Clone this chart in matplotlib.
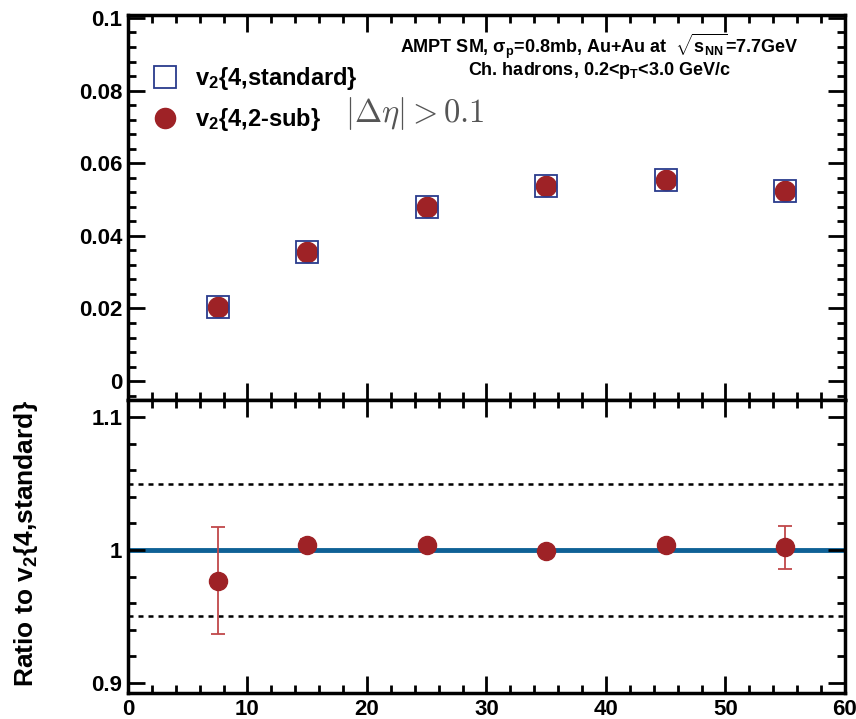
import matplotlib
matplotlib.use('Agg')
import matplotlib.pyplot as plt
from matplotlib.ticker import MultipleLocator

plt.rcParams['font.family'] = ['Liberation Sans', 'DejaVu Sans']
plt.rcParams['font.weight'] = 'bold'
plt.rcParams['mathtext.fontset'] = 'custom'
plt.rcParams['mathtext.rm'] = 'Liberation Sans:bold'
plt.rcParams['mathtext.it'] = 'Liberation Sans:bold'
plt.rcParams['mathtext.bf'] = 'Liberation Sans:bold'
plt.rcParams['mathtext.default'] = 'rm'

# centrality bins
cent = [7.5, 15, 25, 35, 45, 55]
v2_standard = [0.0204, 0.0355, 0.0479, 0.0537, 0.0554, 0.0523]
v2_2sub = [0.0204, 0.0356, 0.0480, 0.0537, 0.0555, 0.0524]
ratio = [0.977, 1.004, 1.004, 0.999, 1.004, 1.002]
ratio_err = [0.040, 0.004, 0.003, 0.003, 0.003, 0.016]

red = '#9e2226'
red_err = '#c0484a'
blue_sq = '#2a3b8c'

fig = plt.figure(figsize=(8.56, 7.19), dpi=100)
ax1 = fig.add_axes([0.1495, 0.4437, 0.8376, 0.5354])
ax2 = fig.add_axes([0.1495, 0.0362, 0.8376, 0.4075])

ax1.plot(cent, v2_standard, 's', ms=16.5, mfc='none', mec=blue_sq, mew=1.3,
         label=r'v$_2${4,standard}', zorder=3)
ax1.plot(cent, v2_2sub, 'o', ms=14.5, color=red, label=r'v$_2${4,2-sub}', zorder=2)

ax1.set_xlim(0, 60)
ax1.set_ylim(-0.0052, 0.1008)
ax1.set_yticks([0, 0.02, 0.04, 0.06, 0.08, 0.1])
ax1.set_yticklabels(['0', '0.02', '0.04', '0.06', '0.08', '0.1'])
ax1.yaxis.set_minor_locator(MultipleLocator(0.004))
ax1.tick_params(labelbottom=False)

leg = ax1.legend(loc='upper left', bbox_to_anchor=(0.035, 0.87), frameon=False,
                 fontsize=17, handletextpad=0.77, labelspacing=0.6, borderpad=0,
                 borderaxespad=0, handlelength=1.0)
ax1.text(0.302, 0.745, r'$|\Delta\eta| > 0.1$', transform=ax1.transAxes,
         fontsize=23.5, color='#555555', math_fontfamily='cm', va='center')

ax1.text(0.658, 0.919, r'AMPT SM, $\sigma_p$=0.8mb, Au+Au at  $\sqrt{s_{NN}}$=7.7GeV',
         transform=ax1.transAxes, fontsize=13, ha='center', va='center')
ax1.text(0.658, 0.857, r'Ch. hadrons, 0.2<p$_T$<3.0 GeV/c',
         transform=ax1.transAxes, fontsize=13, ha='center', va='center')

# ratio panel
ax2.axhline(1.0, color='#0f6196', lw=3.5, zorder=1)
ax2.axhline(1.05, color='black', lw=1.8, ls=(0, (2, 2)), zorder=1)
ax2.axhline(0.95, color='black', lw=1.8, ls=(0, (2, 2)), zorder=1)
ax2.errorbar(cent, ratio, yerr=ratio_err, fmt='o', ms=13, color=red, ecolor=red_err,
             elinewidth=1.3, capsize=5, capthick=1.3, zorder=3)

ax2.set_xlim(0, 60)
ax2.set_ylim(0.8925, 1.1128)
ax2.set_yticks([0.9, 1.0, 1.1])
ax2.set_yticklabels(['0.9', '1', '1.1'])
ax2.yaxis.set_minor_locator(MultipleLocator(0.02))
ax2.set_ylabel(r'Ratio to v$_2${4,standard}', fontsize=19, fontweight='bold')
ax2.yaxis.set_label_coords(-0.123, 0.51)

for ax in (ax1, ax2):
    ax.xaxis.set_major_locator(MultipleLocator(10))
    ax.xaxis.set_minor_locator(MultipleLocator(2))
    ax.tick_params(which='both', direction='in', top=True, right=True, labelsize=16, width=2)
    ax.tick_params(which='major', length=12, pad=4)
    ax.tick_params(which='minor', length=6)
    for s in ax.spines.values():
        s.set_linewidth(2.5)

fig.savefig('out.png', dpi=100)
